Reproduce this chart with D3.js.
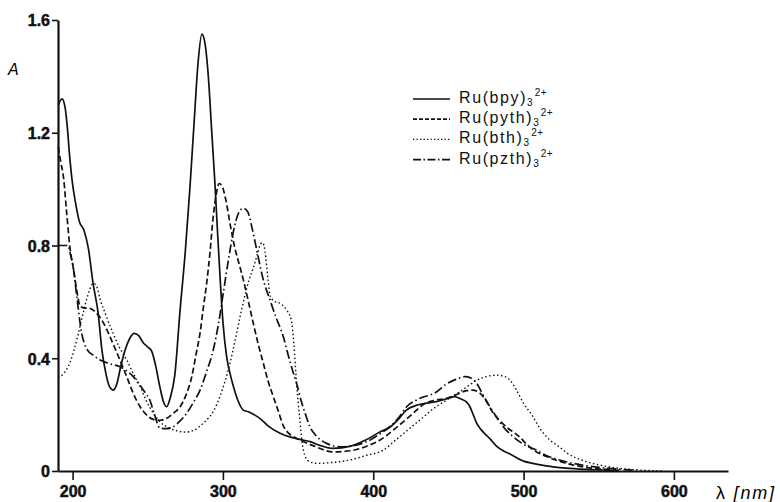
<!DOCTYPE html>
<html>
<head>
<meta charset="utf-8">
<script src="https://cdn.jsdelivr.net/npm/d3@7"></script>
<style>
  body { margin: 0; background: #fff; }
  svg { display: block; }
  .legend text { font-family: 'Liberation Sans', Arial, sans-serif; font-size: 16px; letter-spacing: 1.6px; fill: #111; }
</style>
</head>
<body>
<div id="chart"></div>
<script>
// absorption spectra, [wavelength nm, absorbance]
var bpyData = [[190.5,1.30],[193,1.32],[195,1.29],[196.5,1.22],[198,1.12],[199.7,1.03],[202,0.95],[204.5,0.885],[207.5,0.855],[210.5,0.79],[213.6,0.667],[217,0.56],[219.5,0.43],[222,0.35],[224.5,0.30],[227,0.287],[229.5,0.31],[232,0.37],[235,0.43],[238,0.47],[241,0.488],[244,0.48],[247,0.455],[250,0.44],[252.6,0.425],[255,0.38],[258,0.30],[260.5,0.245],[262.6,0.228],[265,0.26],[268,0.34],[271.5,0.57],[275,0.78],[278,1.0],[281,1.25],[283.5,1.45],[286,1.55],[288,1.52],[290.3,1.40],[292.5,1.21],[294.7,1.02],[296.5,0.84],[298.3,0.67],[300,0.53],[302.5,0.405],[305,0.34],[307,0.30],[310,0.25],[313.6,0.216],[317,0.21],[320,0.202],[325,0.185],[330,0.16],[338,0.134],[345,0.12],[351,0.112],[358,0.104],[365,0.09],[373,0.08],[385,0.088],[395,0.11],[405,0.14],[411,0.155],[417,0.185],[422,0.216],[430,0.235],[442,0.246],[450,0.258],[454,0.264],[458,0.256],[462,0.245],[464.3,0.228],[466.5,0.2],[468.8,0.17],[472,0.145],[477.6,0.115],[482,0.088],[487,0.07],[491,0.06],[500,0.035],[506,0.027],[515,0.018],[528,0.01],[545,0.005],[560,0.002]];

var pythData = [[190.5,1.15],[192,1.10],[194,1.04],[196,0.92],[198.3,0.79],[200.5,0.72],[202.8,0.64],[205,0.585],[208,0.578],[211.6,0.577],[215,0.565],[218.3,0.545],[222,0.51],[227,0.45],[231,0.40],[236,0.335],[240,0.28],[244.9,0.228],[249,0.20],[253.7,0.183],[258,0.18],[262.6,0.187],[267,0.205],[271.5,0.228],[275.5,0.27],[279.3,0.335],[282,0.41],[284.8,0.49],[287,0.58],[289.2,0.666],[291.5,0.78],[293.5,0.9],[295.5,0.98],[297.5,1.02],[299.5,1.01],[302,0.96],[305,0.87],[308,0.79],[311,0.73],[313.6,0.678],[317,0.60],[320.2,0.524],[323.5,0.45],[326.9,0.382],[330,0.32],[333.5,0.264],[337,0.21],[340.2,0.16],[343.5,0.135],[346.8,0.122],[351.3,0.11],[360,0.09],[373.4,0.068],[385,0.072],[395.6,0.088],[404.5,0.11],[415.6,0.155],[426.6,0.205],[433,0.235],[440,0.25],[448.8,0.258],[456,0.272],[462,0.285],[466,0.287],[471,0.276],[475,0.25],[479.8,0.205],[484,0.18],[490,0.15],[494,0.135],[497.5,0.12],[502,0.095],[506.4,0.075],[515,0.052],[528.6,0.027],[540,0.014],[557,0.005],[565,0.002]];

var bthData = [[190.5,0.33],[193,0.34],[196,0.36],[198.3,0.385],[201,0.43],[203,0.47],[205,0.515],[207,0.56],[209.4,0.61],[211.5,0.645],[213.8,0.666],[216,0.655],[218.3,0.61],[222,0.555],[227,0.488],[231,0.44],[236,0.394],[240,0.35],[244.9,0.30],[249,0.25],[253.7,0.205],[258,0.175],[262.6,0.157],[268,0.145],[275,0.138],[281,0.145],[286,0.165],[289.2,0.181],[294,0.215],[298,0.264],[301.5,0.32],[304.7,0.382],[308,0.46],[311.4,0.547],[314.5,0.62],[317.5,0.68],[320.2,0.72],[323,0.77],[325,0.805],[326.5,0.81],[328,0.78],[330,0.68],[331.5,0.62],[334,0.603],[338,0.595],[342.4,0.571],[345.5,0.535],[347.2,0.45],[349,0.311],[351,0.19],[353.5,0.074],[357,0.035],[362.4,0.027],[372,0.03],[384.5,0.039],[395,0.055],[406.6,0.074],[415,0.11],[424,0.15],[433,0.19],[441,0.225],[449,0.252],[460,0.29],[469,0.322],[476,0.336],[482,0.34],[487,0.336],[491,0.322],[495.3,0.287],[500,0.24],[506,0.195],[511,0.15],[517.5,0.11],[524,0.085],[528.6,0.065],[540,0.036],[550.7,0.021],[560,0.012],[573,0.005],[593,0.0]];

var pzthData = [[190.5,0.80],[194,0.80],[197,0.80],[198.5,0.77],[200.5,0.72],[203,0.61],[206,0.49],[208,0.45],[210.5,0.425],[214,0.41],[218.3,0.394],[225,0.38],[231.6,0.37],[236,0.355],[240.4,0.335],[244,0.31],[248,0.28],[251.5,0.25],[254.5,0.2],[258.2,0.152],[262,0.15],[267,0.157],[271,0.175],[275.9,0.205],[280,0.24],[284.8,0.287],[289,0.35],[293.6,0.43],[297,0.52],[300.5,0.64],[304,0.76],[307,0.85],[310,0.91],[313.5,0.932],[316.5,0.92],[319.5,0.86],[322.5,0.784],[326.9,0.678],[331.3,0.607],[335,0.55],[340.2,0.476],[344,0.40],[347,0.345],[349,0.311],[352,0.25],[355,0.2],[357.9,0.157],[362,0.125],[369,0.098],[377.9,0.086],[387,0.09],[395.6,0.104],[404,0.13],[411,0.157],[417,0.19],[422.2,0.228],[430,0.255],[442,0.28],[449,0.31],[455,0.325],[461,0.335],[465,0.33],[468.8,0.311],[473,0.27],[477.6,0.228],[481,0.2],[486,0.16],[493,0.122],[500,0.095],[508.6,0.074],[515,0.055],[524,0.039],[540,0.02],[560,0.008],[575,0.002]];

var seriesNames = ['bpy', 'pyth', 'bth', 'pzth'];
var seriesDash = ['none', '6,3', '1.5,2.5', '9,3,1.5,3'];
var xTicks = [200, 300, 400, 500, 600];
var yTicks = [0, 0.4, 0.8, 1.2, 1.6];

var width = 780, height = 502;

var svg = d3.select('#chart').append('svg')
    .attr('width', width)
    .attr('height', height);

var x = d3.scaleLinear().domain([190.3, 636]).range([58, 728]);
var y = d3.scaleLinear().domain([0, 1.6]).range([471, 20]);

// axes
var xAxis = svg.append('g')
    .attr('transform', 'translate(0,' + y(0) + ')')
    .call(d3.axisBottom(x).tickValues(xTicks).tickSize(9).tickSizeOuter(0).tickPadding(3));

var yAxis = svg.append('g')
    .attr('transform', 'translate(' + x.range()[0] + ',0)')
    .call(d3.axisLeft(y).tickValues(yTicks).tickSize(6).tickSizeOuter(0).tickPadding(2)
        .tickFormat(function(d) { return d === 0 ? '0' : d.toFixed(1); }));

[xAxis, yAxis].forEach(function(g) {
    g.select('.domain').attr('stroke', '#111').attr('stroke-width', 2.2);
    g.selectAll('.tick line').attr('stroke', '#111').attr('stroke-width', 1.6);
    g.selectAll('.tick text')
        .attr('fill', '#111')
        .style('font-family', "'Liberation Sans', Arial, sans-serif")
        .style('font-weight', 'bold')
        .style('font-size', '16px')
        .attr('stroke', '#111')
        .attr('stroke-width', 0.5);
});
xAxis.selectAll('.tick text').attr('dy', '0.9em');
yAxis.selectAll('.tick text').attr('dy', '0.36em');

// axis titles
svg.append('text')
    .attr('x', 8).attr('y', 75)
    .style('font-family', 'Liberation Sans, Arial, sans-serif')
    .style('font-style', 'italic')
    .style('font-size', '16px')
    .text('A');

var xTitle = svg.append('text')
    .attr('x', 716).attr('y', 499)
    .style('font-family', 'Liberation Sans, Arial, sans-serif')
    .style('font-size', '18px')
    .style('letter-spacing', '1.8px');
xTitle.append('tspan').text('λ ');
xTitle.append('tspan').style('font-style', 'italic').text('[nm]');

// spectra
var line = d3.line()
    .x(function(d) { return x(d[0]); })
    .y(function(d) { return y(d[1]); })
    .curve(d3.curveMonotoneX);

var allData = [bpyData, pythData, bthData, pzthData];

svg.selectAll('.spectrum')
    .data(allData).enter()
    .append('path')
    .attr('class', 'spectrum')
    .attr('d', line)
    .attr('fill', 'none')
    .attr('stroke', '#111')
    .attr('stroke-width', function(d, i) { return i === 2 ? 1.4 : 1.7; })
    .attr('stroke-dasharray', function(d, i) { return seriesDash[i]; });

// legend
var legend = svg.append('g').attr('class', 'legend');

var rows = legend.selectAll('g')
    .data(seriesNames).enter()
    .append('g')
    .attr('transform', function(d, i) { return 'translate(413,' + (99 + i * 20.2) + ')'; });

rows.append('line')
    .attr('x1', 0).attr('x2', 37)
    .attr('stroke', '#111')
    .attr('stroke-width', function(d, i) { return i === 2 ? 1.3 : 1.7; })
    .attr('stroke-dasharray', function(d, i) { return ['none', '4,2', '1.3,2.2', '8,2.5,1.5,2.5'][i]; });

var label = rows.append('text')
    .attr('x', 46).attr('y', 4);
label.append('tspan').text(function(d) { return 'Ru(' + d + ')'; });
label.append('tspan').attr('dy', 3).style('font-size', '10px').style('letter-spacing', '0px').text('3');
label.append('tspan').attr('dy', -10).attr('dx', 2).style('font-size', '10px').style('letter-spacing', '0.5px').text('2+');
</script>
</body>
</html>
